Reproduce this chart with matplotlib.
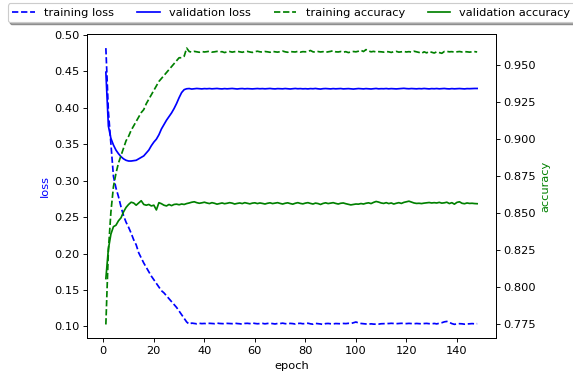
import numpy as np
import matplotlib
matplotlib.use("Agg")
import matplotlib.pyplot as plt

train_loss = [
    0.482, 0.395, 0.350, 0.306, 0.290, 0.278, 0.264, 0.252, 0.243, 0.236,
    0.228, 0.219, 0.212, 0.201, 0.194, 0.187, 0.181, 0.175, 0.169, 0.164,
    0.159, 0.154, 0.149, 0.146, 0.142, 0.138, 0.134, 0.130, 0.126, 0.121,
    0.116, 0.111, 0.106, 0.1030, 0.1045, 0.1040, 0.1035, 0.1042, 0.1038, 0.1040,
    0.1036, 0.1042, 0.1040, 0.1037, 0.1045, 0.1040, 0.1038, 0.1036, 0.1041, 0.1039,
    0.1037, 0.1044, 0.1039, 0.1036, 0.1030, 0.1040, 0.1042, 0.1038, 0.1047, 0.1040,
    0.1036, 0.1039, 0.1041, 0.1035, 0.1040, 0.1043, 0.1038, 0.1033, 0.1040, 0.1039,
    0.1044, 0.1037, 0.1035, 0.1041, 0.1038, 0.1032, 0.1040, 0.1042, 0.1036, 0.1039,
    0.1043, 0.1035, 0.1030, 0.1041, 0.1037, 0.1033, 0.1026, 0.1038, 0.1040, 0.1036,
    0.1034, 0.1039, 0.1037, 0.1036, 0.1040, 0.1038, 0.1042, 0.1039, 0.1050, 0.1060,
    0.1048, 0.1040, 0.1036, 0.1033, 0.1030, 0.1035, 0.1031, 0.1030, 0.1031, 0.1036,
    0.1037, 0.1040, 0.1039, 0.1042, 0.1040, 0.1037, 0.1039, 0.1042, 0.1040, 0.1038,
    0.1041, 0.1039, 0.1036, 0.1040, 0.1037, 0.1035, 0.1039, 0.1041, 0.1037, 0.1035,
    0.1040, 0.1034, 0.1043, 0.1050, 0.1062, 0.1068, 0.1055, 0.1038, 0.1028, 0.1034,
    0.1037, 0.1035, 0.1030, 0.1033, 0.1036, 0.1038, 0.1035, 0.1037,
]

val_loss = [
    0.449, 0.375, 0.358, 0.349, 0.342, 0.337, 0.333, 0.330, 0.328, 0.327,
    0.327, 0.3275, 0.328, 0.330, 0.332, 0.334, 0.338, 0.342, 0.348, 0.353,
    0.357, 0.363, 0.371, 0.377, 0.383, 0.388, 0.393, 0.399, 0.406, 0.414,
    0.421, 0.425, 0.4262, 0.4265, 0.4258, 0.4262, 0.4266, 0.4263, 0.4260, 0.4264,
    0.4262, 0.4265, 0.4261, 0.4263, 0.4266, 0.4262, 0.4260, 0.4264, 0.4261, 0.4263,
    0.4266, 0.4262, 0.4259, 0.4263, 0.4265, 0.4261, 0.4264, 0.4262, 0.4260, 0.4263,
    0.4265, 0.4262, 0.4264, 0.4261, 0.4263, 0.4266, 0.4262, 0.4260, 0.4264, 0.4263,
    0.4261, 0.4265, 0.4262, 0.4259, 0.4263, 0.4266, 0.4262, 0.4264, 0.4261, 0.4263,
    0.4260, 0.4264, 0.4262, 0.4266, 0.4261, 0.4258, 0.4263, 0.4265, 0.4262, 0.4260,
    0.4264, 0.4261, 0.4263, 0.4265, 0.4260, 0.4262, 0.4264, 0.4261, 0.4258, 0.4262,
    0.4265, 0.4263, 0.4260, 0.4264, 0.4262, 0.4259, 0.4263, 0.4266, 0.4261, 0.4263,
    0.4262, 0.4265, 0.4261, 0.4264, 0.4262, 0.4260, 0.4263, 0.4265, 0.4268, 0.4264,
    0.4262, 0.4265, 0.4263, 0.4261, 0.4264, 0.4262, 0.4266, 0.4263, 0.4260, 0.4264,
    0.4262, 0.4265, 0.4261, 0.4263, 0.4266, 0.4262, 0.4260, 0.4264, 0.4261, 0.4263,
    0.4265, 0.4262, 0.4260, 0.4264, 0.4263, 0.4265, 0.4266, 0.4266,
]

train_acc = [
    0.775, 0.825, 0.851, 0.868, 0.877, 0.884, 0.889, 0.894, 0.899, 0.902,
    0.906, 0.909, 0.912, 0.915, 0.918, 0.920, 0.924, 0.927, 0.930, 0.933,
    0.936, 0.939, 0.941, 0.943, 0.945, 0.947, 0.949, 0.951, 0.953, 0.955,
    0.955, 0.956, 0.9615, 0.9592, 0.9588, 0.9593, 0.9590, 0.9587, 0.9592, 0.9589,
    0.9591, 0.9594, 0.9588, 0.9590, 0.9593, 0.9589, 0.9591, 0.9585, 0.9590, 0.9592,
    0.9588, 0.9591, 0.9594, 0.9590, 0.9587, 0.9591, 0.9593, 0.9589, 0.9586, 0.9591,
    0.9594, 0.9590, 0.9588, 0.9592, 0.9590, 0.9587, 0.9593, 0.9590, 0.9588, 0.9591,
    0.9595, 0.9590, 0.9587, 0.9592, 0.9590, 0.9589, 0.9593, 0.9588, 0.9591, 0.9590,
    0.9592, 0.9599, 0.9590, 0.9588, 0.9592, 0.9589, 0.9591, 0.9587, 0.9590, 0.9593,
    0.9598, 0.9590, 0.9589, 0.9592, 0.9588, 0.9591, 0.9585, 0.9589, 0.9592, 0.9590,
    0.9594, 0.9600, 0.9592, 0.9605, 0.9596, 0.9590, 0.9593, 0.9589, 0.9591, 0.9590,
    0.9588, 0.9592, 0.9590, 0.9586, 0.9591, 0.9593, 0.9588, 0.9590, 0.9592, 0.9589,
    0.9591, 0.9588, 0.9594, 0.9590, 0.9586, 0.9580, 0.9590, 0.9583, 0.9592, 0.9587,
    0.9582, 0.9590, 0.9585, 0.9580, 0.9592, 0.9593, 0.9590, 0.9591, 0.9588, 0.9590,
    0.9592, 0.9589, 0.9591, 0.9590, 0.9588, 0.9590, 0.9591, 0.9589,
]

val_acc = [
    0.806, 0.826, 0.836, 0.841, 0.842, 0.845, 0.847, 0.851, 0.854, 0.856,
    0.8575, 0.857, 0.8555, 0.857, 0.8585, 0.856, 0.8555, 0.856, 0.855, 0.8555,
    0.8523, 0.8572, 0.8565, 0.8555, 0.8550, 0.8560, 0.8552, 0.8560, 0.8562, 0.8558,
    0.8563, 0.8560, 0.8566, 0.8570, 0.8575, 0.8578, 0.8572, 0.8568, 0.8571, 0.8575,
    0.8570, 0.8566, 0.8572, 0.8568, 0.8562, 0.8566, 0.8570, 0.8565, 0.8568, 0.8572,
    0.8569, 0.8563, 0.8567, 0.8570, 0.8566, 0.8572, 0.8568, 0.8564, 0.8569, 0.8571,
    0.8566, 0.8570, 0.8567, 0.8563, 0.8568, 0.8571, 0.8566, 0.8569, 0.8572, 0.8567,
    0.8563, 0.8568, 0.8571, 0.8566, 0.8562, 0.8568, 0.8572, 0.8567, 0.8564, 0.8569,
    0.8572, 0.8567, 0.8563, 0.8569, 0.8566, 0.8560, 0.8567, 0.8571, 0.8566, 0.8569,
    0.8572, 0.8567, 0.8563, 0.8568, 0.8570, 0.8565, 0.8561, 0.8557, 0.8560, 0.8563,
    0.8562, 0.8566, 0.8563, 0.8568, 0.8571, 0.8566, 0.8574, 0.8580, 0.8576, 0.8570,
    0.8567, 0.8572, 0.8566, 0.8570, 0.8563, 0.8568, 0.8572, 0.8567, 0.8574, 0.8578,
    0.8582, 0.8576, 0.8570, 0.8567, 0.8568, 0.8566, 0.8569, 0.8571, 0.8573, 0.8570,
    0.8572, 0.8570, 0.8574, 0.8569, 0.8571, 0.8575, 0.8566, 0.8572, 0.8562, 0.8574,
    0.8578, 0.8568, 0.8565, 0.8570, 0.8567, 0.8568, 0.8566, 0.8565,
]

def ep(s):
    return np.arange(1, len(s) + 1)

W, H, DPI = 573, 378, 82
fig = plt.figure(figsize=(W / DPI, H / DPI), dpi=DPI)
ax = fig.add_axes([87.3 / W, 1 - 338.3 / H, (495.7 - 87.3) / W, (338.3 - 34.3) / H])
ax2 = ax.twinx()

l1, = ax.plot(ep(train_loss), train_loss, 'b--', label='training loss')
l2, = ax.plot(ep(val_loss), val_loss, 'b-', label='validation loss')
l3, = ax2.plot(ep(train_acc), train_acc, 'g--', label='training accuracy')
l4, = ax2.plot(ep(val_acc), val_acc, 'g-', label='validation accuracy')

ax.set_xlabel('epoch')
ax.set_ylabel('loss', color='b')
ax2.set_ylabel('accuracy', color='g')

ax.set_yticks([0.10, 0.15, 0.20, 0.25, 0.30, 0.35, 0.40, 0.45, 0.50])
ax2.set_yticks([0.775, 0.800, 0.825, 0.850, 0.875, 0.900, 0.925, 0.950])

fig.legend(handles=[l1, l2, l3, l4], loc='upper center', ncol=4,
           fancybox=True, shadow=True, borderaxespad=0,
           bbox_to_anchor=(291.5 / W, 1 - 3.3 / H), bbox_transform=fig.transFigure)

fig.savefig('out.png', dpi=DPI)
